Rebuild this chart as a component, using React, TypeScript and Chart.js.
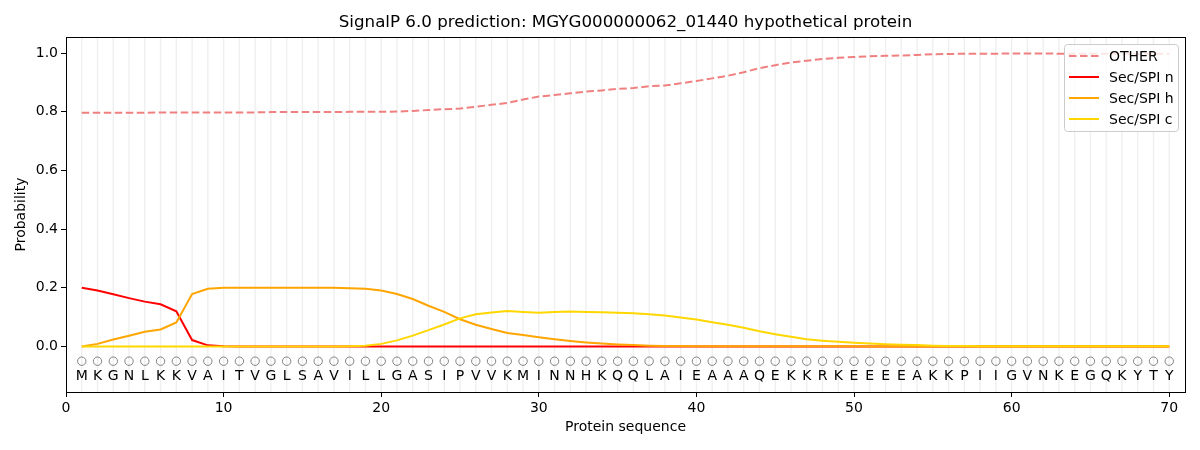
import React, { useEffect, useRef } from 'react';
import { Chart, registerables } from 'chart.js';

Chart.register(...registerables);

const titleText = 'SignalP 6.0 prediction: MGYG000000062_01440 hypothetical protein';

// residues, one per position 1..70
const sequence = [
  'M', 'K', 'G', 'N', 'L', 'K', 'K', 'V', 'A', 'I', 'T', 'V', 'G', 'L', 'S', 'A', 'V', 'I', 'L', 'L',
  'G', 'A', 'S', 'I', 'P', 'V', 'V', 'K', 'M', 'I', 'N', 'N', 'H', 'K', 'Q', 'Q', 'L', 'A', 'I', 'E',
  'A', 'A', 'A', 'Q', 'E', 'K', 'K', 'R', 'K', 'E', 'E', 'E', 'E', 'A', 'K', 'K', 'P', 'I', 'I', 'G',
  'V', 'N', 'K', 'E', 'G', 'Q', 'K', 'Y', 'T', 'Y',
];

const otherProb = [
  0.797, 0.797, 0.797, 0.797, 0.797, 0.798, 0.798, 0.798, 0.798, 0.798,
  0.798, 0.798, 0.799, 0.799, 0.799, 0.799, 0.799, 0.800, 0.800, 0.800,
  0.801, 0.803, 0.806, 0.809, 0.811, 0.817, 0.824, 0.830, 0.842, 0.852,
  0.857, 0.863, 0.869, 0.873, 0.878, 0.881, 0.887, 0.890, 0.897, 0.905,
  0.914, 0.923, 0.935, 0.949, 0.959, 0.968, 0.974, 0.980, 0.984, 0.987,
  0.989, 0.991, 0.992, 0.994, 0.996, 0.997, 0.998, 0.998, 0.998, 0.999,
  0.999, 0.999, 0.998, 0.998, 0.998, 0.998, 0.998, 0.998, 0.998, 0.998,
];

const secN = [
  0.200, 0.191, 0.178, 0.165, 0.153, 0.144, 0.120, 0.022, 0.004, 0.001,
  0.000, 0.000, 0.000, 0.000, 0.000, 0.000, 0.000, 0.000, 0.000, 0.000,
  0.000, 0.000, 0.000, 0.000, 0.000, 0.000, 0.000, 0.000, 0.000, 0.000,
  0.000, 0.000, 0.000, 0.000, 0.000, 0.000, 0.000, 0.000, 0.000, 0.000,
  0.000, 0.000, 0.000, 0.000, 0.000, 0.000, 0.000, 0.000, 0.000, 0.000,
  0.000, 0.000, 0.000, 0.000, 0.000, 0.000, 0.000, 0.000, 0.000, 0.000,
  0.000, 0.000, 0.000, 0.000, 0.000, 0.000, 0.000, 0.000, 0.000, 0.000,
];

const secH = [
  0.000, 0.009, 0.024, 0.037, 0.050, 0.058, 0.082, 0.179, 0.197, 0.200,
  0.200, 0.200, 0.200, 0.200, 0.200, 0.200, 0.200, 0.199, 0.197, 0.191,
  0.179, 0.162, 0.139, 0.118, 0.093, 0.074, 0.060, 0.046, 0.039, 0.032,
  0.025, 0.019, 0.014, 0.010, 0.007, 0.005, 0.003, 0.002, 0.002, 0.001,
  0.001, 0.001, 0.001, 0.001, 0.001, 0.001, 0.001, 0.001, 0.001, 0.001,
  0.000, 0.000, 0.000, 0.000, 0.000, 0.000, 0.000, 0.000, 0.000, 0.000,
  0.000, 0.000, 0.000, 0.000, 0.000, 0.000, 0.000, 0.000, 0.000, 0.000,
];

const secC = [
  0.000, 0.000, 0.000, 0.000, 0.000, 0.000, 0.000, 0.000, 0.000, 0.000,
  0.000, 0.000, 0.000, 0.000, 0.000, 0.000, 0.000, 0.001, 0.003, 0.009,
  0.021, 0.037, 0.056, 0.075, 0.096, 0.110, 0.116, 0.121, 0.118, 0.115,
  0.118, 0.119, 0.118, 0.117, 0.115, 0.113, 0.110, 0.106, 0.099, 0.092,
  0.083, 0.074, 0.064, 0.052, 0.042, 0.033, 0.025, 0.020, 0.016, 0.013,
  0.010, 0.008, 0.006, 0.005, 0.003, 0.002, 0.002, 0.001, 0.001, 0.001,
  0.001, 0.001, 0.001, 0.001, 0.001, 0.001, 0.001, 0.001, 0.001, 0.001,
];

const xTicks = [0, 10, 20, 30, 40, 50, 60, 70];
const yTicks = [0, 0.2, 0.4, 0.6, 0.8, 1.0];

// row of hollow markers and the residue letters under the curves
const markerLevel = -0.05;
const letterLevel = -0.1;

const positions = sequence.map((_, i) => i + 1);
const toPoints = (vals: number[]) => vals.map((v, i) => ({ x: positions[i], y: v }));

const FONT = 'DejaVu Sans';

const App: React.FC = () => {
  const chartRef = useRef<HTMLCanvasElement>(null);
  const chartInstance = useRef<Chart | null>(null);

  useEffect(() => {
    if (!chartRef.current) return;
    const ctx = chartRef.current.getContext('2d');
    if (!ctx) return;

    if (chartInstance.current) {
      chartInstance.current.destroy();
    }

    const decorations = {
      id: 'decorations',
      beforeDatasetsDraw(chart: any) {
        const { ctx, chartArea, scales } = chart;
        ctx.save();
        ctx.strokeStyle = '#efefef';
        ctx.lineWidth = 1.4;
        positions.forEach((p) => {
          const px = scales.x.getPixelForValue(p);
          ctx.beginPath();
          ctx.moveTo(px, chartArea.top);
          ctx.lineTo(px, chartArea.bottom);
          ctx.stroke();
        });
        ctx.restore();
      },
      afterDraw(chart: any) {
        const { ctx, chartArea, scales } = chart;
        ctx.save();

        // residue letters
        ctx.fillStyle = '#000';
        ctx.font = `14px "${FONT}"`;
        ctx.textAlign = 'center';
        ctx.textBaseline = 'middle';
        const ly = scales.y.getPixelForValue(letterLevel);
        sequence.forEach((aa, i) => {
          ctx.fillText(aa, scales.x.getPixelForValue(positions[i]), ly);
        });

        // frame
        ctx.strokeStyle = '#000';
        ctx.lineWidth = 1;
        ctx.strokeRect(
          Math.round(chartArea.left) + 0.5,
          Math.round(chartArea.top) + 0.5,
          Math.round(chartArea.right - chartArea.left),
          Math.round(chartArea.bottom - chartArea.top)
        );

        // title
        ctx.font = `16.7px "${FONT}"`;
        ctx.textAlign = 'center';
        ctx.textBaseline = 'middle';
        ctx.fillText(titleText, (chartArea.left + chartArea.right) / 2, 23);

        // legend
        const items = chart.data.datasets.filter((d: any) => d.label);
        const boxW = 114;
        const rowH = 21;
        const boxH = items.length * rowH + 3;
        const bx = chartArea.right - 7 - boxW;
        const by = chartArea.top + 7;
        ctx.fillStyle = 'rgba(255,255,255,0.8)';
        ctx.strokeStyle = '#cccccc';
        ctx.lineWidth = 1;
        ctx.beginPath();
        (ctx as any).roundRect(bx + 0.5, by + 0.5, boxW, boxH, 3);
        ctx.fill();
        ctx.stroke();
        ctx.font = `14px "${FONT}"`;
        ctx.textAlign = 'left';
        items.forEach((d: any, i: number) => {
          const cy = by + 12 + i * rowH;
          ctx.strokeStyle = d.borderColor;
          ctx.lineWidth = 2;
          ctx.setLineDash(d.borderDash || []);
          ctx.beginPath();
          ctx.moveTo(bx + 5, cy);
          ctx.lineTo(bx + 35, cy);
          ctx.stroke();
          ctx.setLineDash([]);
          ctx.fillStyle = '#000';
          ctx.fillText(d.label, bx + 45, cy + 1);
        });
        ctx.restore();
      },
    };

    const lineStyle = { pointRadius: 0, borderWidth: 2, fill: false, tension: 0 };

    chartInstance.current = new Chart(ctx, {
      type: 'line',
      data: {
        datasets: [
          { label: 'OTHER', data: toPoints(otherProb), borderColor: '#f08080', borderDash: [7.5, 3.5], order: 4, ...lineStyle },
          { label: 'Sec/SPI n', data: toPoints(secN), borderColor: '#ff0000', order: 3, ...lineStyle },
          { label: 'Sec/SPI h', data: toPoints(secH), borderColor: '#ffa500', order: 2, ...lineStyle },
          { label: 'Sec/SPI c', data: toPoints(secC), borderColor: '#ffd700', order: 1, ...lineStyle },
          {
            label: '',
            data: positions.map((p) => ({ x: p, y: markerLevel })),
            showLine: false,
            pointRadius: 4.2,
            pointBorderWidth: 1,
            pointBorderColor: '#808080',
            pointBackgroundColor: 'rgba(0,0,0,0)',
            borderColor: '#808080',
            order: 5,
          },
        ],
      } as any,
      options: {
        animation: false,
        responsive: true,
        maintainAspectRatio: false,
        layout: { padding: { left: 0, top: 37, right: 15, bottom: 0 } },
        plugins: {
          legend: { display: false },
          title: { display: false },
          tooltip: { enabled: false },
        },
        scales: {
          x: {
            type: 'linear',
            min: 0,
            max: 71,
            afterBuildTicks: (axis: any) => {
              axis.ticks = xTicks.map((v) => ({ value: v }));
            },
            afterFit: (axis: any) => {
              axis.height = 58;
            },
            ticks: {
              autoSkip: false,
              maxRotation: 0,
              padding: 3,
              color: '#000',
              font: { family: FONT, size: 14 },
              callback: (v: any) => String(v),
            },
            grid: { drawOnChartArea: false, tickLength: 5, color: '#000' },
            border: { display: false },
            title: {
              display: true,
              text: 'Protein sequence',
              color: '#000',
              font: { family: FONT, size: 14 },
              padding: { top: 0, bottom: 14 },
            },
          },
          y: {
            min: -0.155,
            max: 1.055,
            afterBuildTicks: (axis: any) => {
              axis.ticks = yTicks.map((v) => ({ value: v }));
            },
            afterFit: (axis: any) => {
              axis.width = 66;
            },
            ticks: {
              padding: 3,
              color: '#000',
              font: { family: FONT, size: 14 },
              callback: (v: any) => Number(v).toFixed(1),
            },
            grid: { drawOnChartArea: false, tickLength: 5, color: '#000' },
            border: { display: false },
            title: {
              display: true,
              text: 'Probability',
              color: '#000',
              font: { family: FONT, size: 14 },
              padding: { top: 13, bottom: 0 },
            },
          },
        },
      } as any,
      plugins: [decorations],
    });

    return () => {
      if (chartInstance.current) {
        chartInstance.current.destroy();
        chartInstance.current = null;
      }
    };
  }, []);

  return (
    <div style={{ position: 'absolute', left: 0, top: 0, width: 1200, height: 450, background: '#fff' }}>
      <canvas ref={chartRef} />
    </div>
  );
};

export default App;
